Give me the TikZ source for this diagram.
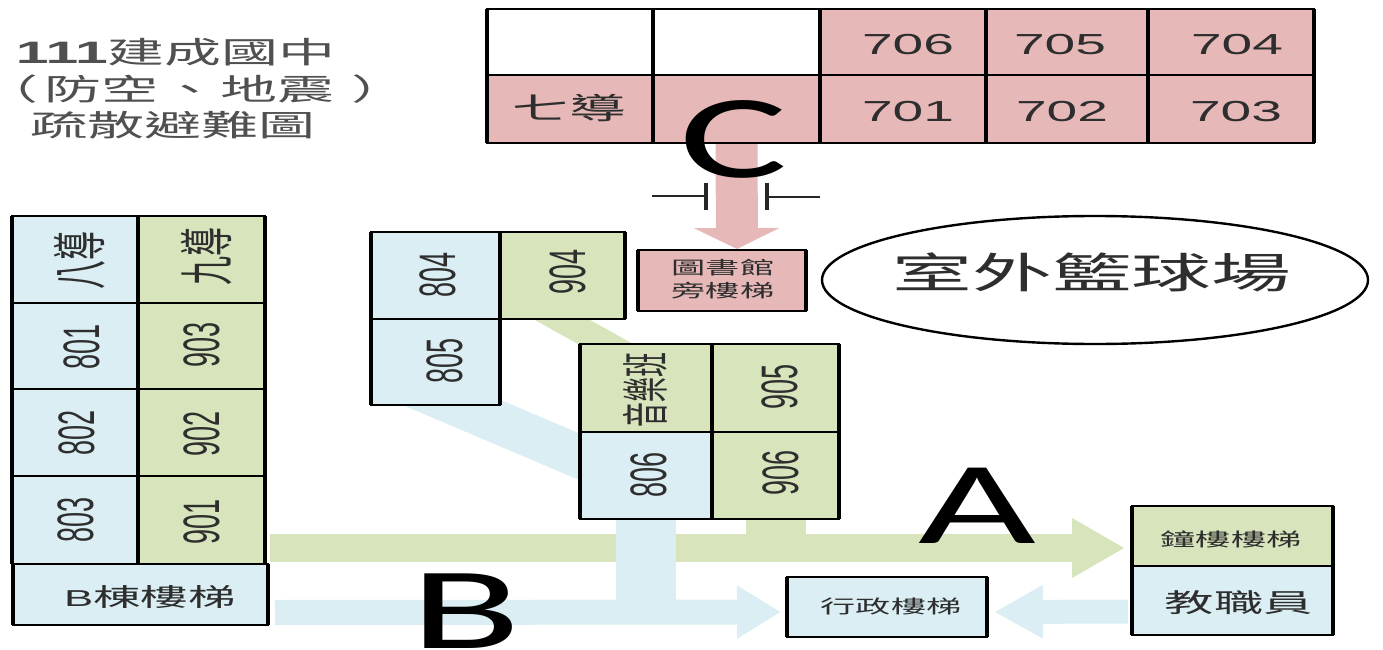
\documentclass[tikz,border=0pt]{standalone}
\usepackage{fontspec}
\usepackage{graphicx}
\usetikzlibrary{arrows.meta,calc,backgrounds,shapes.geometric}
\setmainfont{Liberation Sans}
\newfontfamily\cjk{Noto Sans CJK TC}
\newfontfamily\cjkp[RawFeature=+palt]{Noto Sans CJK TC}
\newfontfamily\capsfont{Carlito}
\definecolor{roomblue}{HTML}{DAEEF3}
\definecolor{roomgreen}{HTML}{D7E4BC}
\definecolor{roompink}{HTML}{E6B9B8}
\definecolor{inkgrey}{HTML}{2E2E2E}
\definecolor{titlegrey}{HTML}{505050}
\newcommand{\fs}[1]{\fontsize{#1}{#1}\selectfont}
% the reference is stretched sideways by about 1.9
\newcommand{\hst}[2]{\scalebox{1.9}[1]{\fs{#1}#2}}
\newcommand{\vst}[2]{\scalebox{1.9}[1]{\rotatebox{90}{\fs{#1}#2}}}
\newcommand{\cell}[6]{\node[roomcell,fill=#6,minimum width={(#4-#2)*1pt},minimum height={(#5-#3)*1pt}] (#1) at ({(#2+#4)/2},{(#3+#5)/2}) {};
  \draw[cellside] (#1.north west) -- (#1.south west) (#1.north east) -- (#1.south east);}
\tikzset{
  x=1pt,y=-1pt,
  roomcell/.style={draw=black,line width=2.6pt,inner sep=0pt,outer sep=0pt},
  cellside/.style={draw=black,line width=4pt,line cap=square},
  roomtext/.style={inner sep=0pt,outer sep=0pt,text=inkgrey,align=center},
  titletext/.style={inner sep=0pt,outer sep=0pt,text=titlegrey,anchor=west},
  bigletter/.style={inner sep=0pt,outer sep=0pt,text=black},
  flow/.style={line width=#1,line cap=butt},
  markline/.style={draw=black!85,line width=1.8pt},
  markbar/.style={draw=black!85,line width=4pt},
}
\begin{document}
\begin{tikzpicture}
\useasboundingbox (0,0) rectangle (1383,650);

% rooms
\cell{t1}{487}{9}{653}{75}{white}
\cell{t2}{653}{9}{820}{75}{white}
\cell{r706}{820}{9}{986}{75}{roompink}
\cell{r705}{986}{9}{1148}{75}{roompink}
\cell{r704}{1148}{9}{1314}{75}{roompink}
\cell{r7d}{487}{75}{653}{143}{roompink}
\cell{t3}{653}{75}{820}{143}{roompink}
\cell{r701}{820}{75}{986}{143}{roompink}
\cell{r702}{986}{75}{1148}{143}{roompink}
\cell{r703}{1148}{75}{1314}{143}{roompink}

\cell{r8d}{12}{216}{138}{303}{roomblue}
\cell{r801}{12}{303}{138}{389}{roomblue}
\cell{r802}{12}{389}{138}{476}{roomblue}
\cell{r803}{12}{476}{138}{564}{roomblue}
\cell{r9d}{138}{216}{265}{303}{roomgreen}
\cell{r903}{138}{303}{265}{389}{roomgreen}
\cell{r902}{138}{389}{265}{476}{roomgreen}
\cell{r901}{138}{476}{265}{564}{roomgreen}
\cell{bstairs}{13}{564}{268}{625}{roomblue}

\cell{r804}{371}{232}{500}{319}{roomblue}
\cell{r805}{371}{319}{500}{405}{roomblue}
\cell{r904}{500}{232}{625}{319}{roomgreen}
\cell{music}{580}{344}{712}{432}{roomgreen}
\cell{r905}{712}{344}{839}{432}{roomgreen}
\cell{r806}{580}{432}{712}{519}{roomblue}
\cell{r906}{712}{432}{839}{519}{roomgreen}

\cell{lib}{638}{250}{806}{311}{roompink}
\cell{clock}{1132}{506}{1333}{566}{roomgreen}
\cell{staff}{1132}{566}{1333}{635}{roomblue}
\cell{admin}{787}{577}{987}{637}{roomblue}

% routes, under the rooms
\begin{scope}[on background layer]
\draw[flow=27pt,draw=roomgreen] ($(r904.south)+(-32,-17)$) -- ($(music.north)+(-21,11)$);
\draw[flow=43pt,draw=roomblue] ($(r805.south)+(-25,-20)$) -- ($(r806.center)+(-46,-10)$);
\draw[flow=60pt,draw=roomgreen] (r906.south) -- ($(r906.south)+(0,22)$);
\draw[flow=28pt,draw=roomgreen,-{Triangle[length=53pt,width=56pt]}] ($(r901.south east)+(5,-16)$) -- ($(clock.west)+(-7,12)$);
\draw[flow=60pt,draw=roomblue] (r806.south) -- ($(r806.south)+(0,85)$);
\draw[flow=25pt,draw=roomblue,-{Triangle[length=44pt,width=50pt]}] ($(bstairs.east)+(7,18)$) -- ($(admin.west)+(-6,5)$);
\draw[flow=24pt,draw=roomblue,-{Triangle[length=49pt,width=50pt]}] ($(staff.west)+(-4,11)$) -- ($(admin.east)+(7,5)$);
\draw[flow=42pt,draw=roompink,-{Triangle[length=21pt,width=85pt]}] (t3.south) -- ($(lib.north)+(15,-1)$);
\end{scope}

% width marks
\coordinate (ml1) at (652,196); \coordinate (ml2) at (706,196);
\coordinate (ml3) at (706,183); \coordinate (ml4) at (706,210);
\coordinate (mr1) at (820,197); \coordinate (mr2) at (767,197);
\coordinate (mr3) at (767,183); \coordinate (mr4) at (767,210);
\draw[markline] (ml1) -- (ml2);
\draw[markbar] (ml3) -- (ml4);
\draw[markline] (mr1) -- (mr2);
\draw[markbar] (mr3) -- (mr4);

% court
\node[ellipse,draw=black,line width=2.4pt,fill=white,inner sep=0pt,minimum width=546pt,minimum height=128pt] (courtshape) at (1095,280) {};
\node[roomtext] (court) at (1092,272) {\hst{42}{\cjk 室外籃球場}};

% title
\node[titletext] (title1) at (16,52) {\hst{30}{{\fs{31}\bfseries 111}\fs{30}\cjk 建成國中}};
\node[titletext] (title2) at (8,89) {\hst{30}{\cjkp （\hspace{4pt}\cjk 防空\hspace{2pt}、\hspace{1pt}地震\hspace{10pt}\cjkp ）}};
\node[titletext] (title3) at (30,125) {\hst{30}{\cjk 疏散避難圖}};

% top block labels
\node[roomtext] (l706) at (908,45) {\hst{29}{706}};
\node[roomtext] (l705) at (1060,45) {\hst{29}{705}};
\node[roomtext] (l704) at (1237,45) {\hst{29}{704}};
\node[roomtext] (l701) at (908,112) {\hst{29}{701}};
\node[roomtext] (l702) at (1062,112) {\hst{29}{702}};
\node[roomtext] (l703) at (1236,112) {\hst{29}{703}};
\node[roomtext] (l7d) at (569,108) {\hst{30}{\cjk 七導}};

% left block labels
\node[roomtext] (l8d) at (80,260) {\vst{29}{\cjk 八導}};
\node[roomtext] (l9d) at (207,256) {\vst{29}{\cjk 九導}};
\node[roomtext] (l801) at (82,347) {\vst{27}{801}};
\node[roomtext] (l802) at (77,433) {\vst{27}{802}};
\node[roomtext] (l803) at (76,520) {\vst{27}{803}};
\node[roomtext] (l903) at (202,345) {\vst{27}{903}};
\node[roomtext] (l902) at (202,434) {\vst{27}{902}};
\node[roomtext] (l901) at (202,522) {\vst{27}{901}};
\node[roomtext] (lb) at (150,597) {\hst{25}{\fs{23}B\fs{25}\cjk 棟樓梯}};

% middle labels
\node[roomtext] (l804) at (438,275) {\vst{27}{804}};
\node[roomtext] (l805) at (445,361) {\vst{27}{805}};
\node[roomtext] (l904) at (568,272) {\vst{27}{904}};
\node[roomtext] (lmusic) at (645,390) {\vst{25}{\cjk 音樂班}};
\node[roomtext] (l905) at (780,387) {\vst{27}{905}};
\node[roomtext] (l806) at (649,475) {\vst{27}{806}};
\node[roomtext] (l906) at (781,473) {\vst{27}{906}};

% stairs
\node[roomtext] (llib) at (723,281) {\hst{18}{\begin{tabular}{@{}c@{}}\cjk 圖書館\\[3pt]\cjk 旁樓梯\end{tabular}}};
\node[roomtext] (lclock) at (1231,539) {\hst{18.5}{\cjk 鐘樓樓梯}};
\node[roomtext] (lstaff) at (1239,603) {\hst{26}{\cjk 教職員}};
\node[roomtext] (ladmin) at (891,606) {\hst{18.5}{\cjk 行政樓梯}};

% route letters
\node[bigletter] (la) at (977,506) {\scalebox{1.8}[1.04]{\fs{113}\capsfont A}};
\node[bigletter] (lbb) at (466,611) {\scalebox{1.8}[1.03]{\fs{113}\capsfont B}};
\node[bigletter] (lc) at (734,139) {\scalebox{1.8}[1.05]{\fs{113}\capsfont C}};
\end{tikzpicture}
\end{document}
